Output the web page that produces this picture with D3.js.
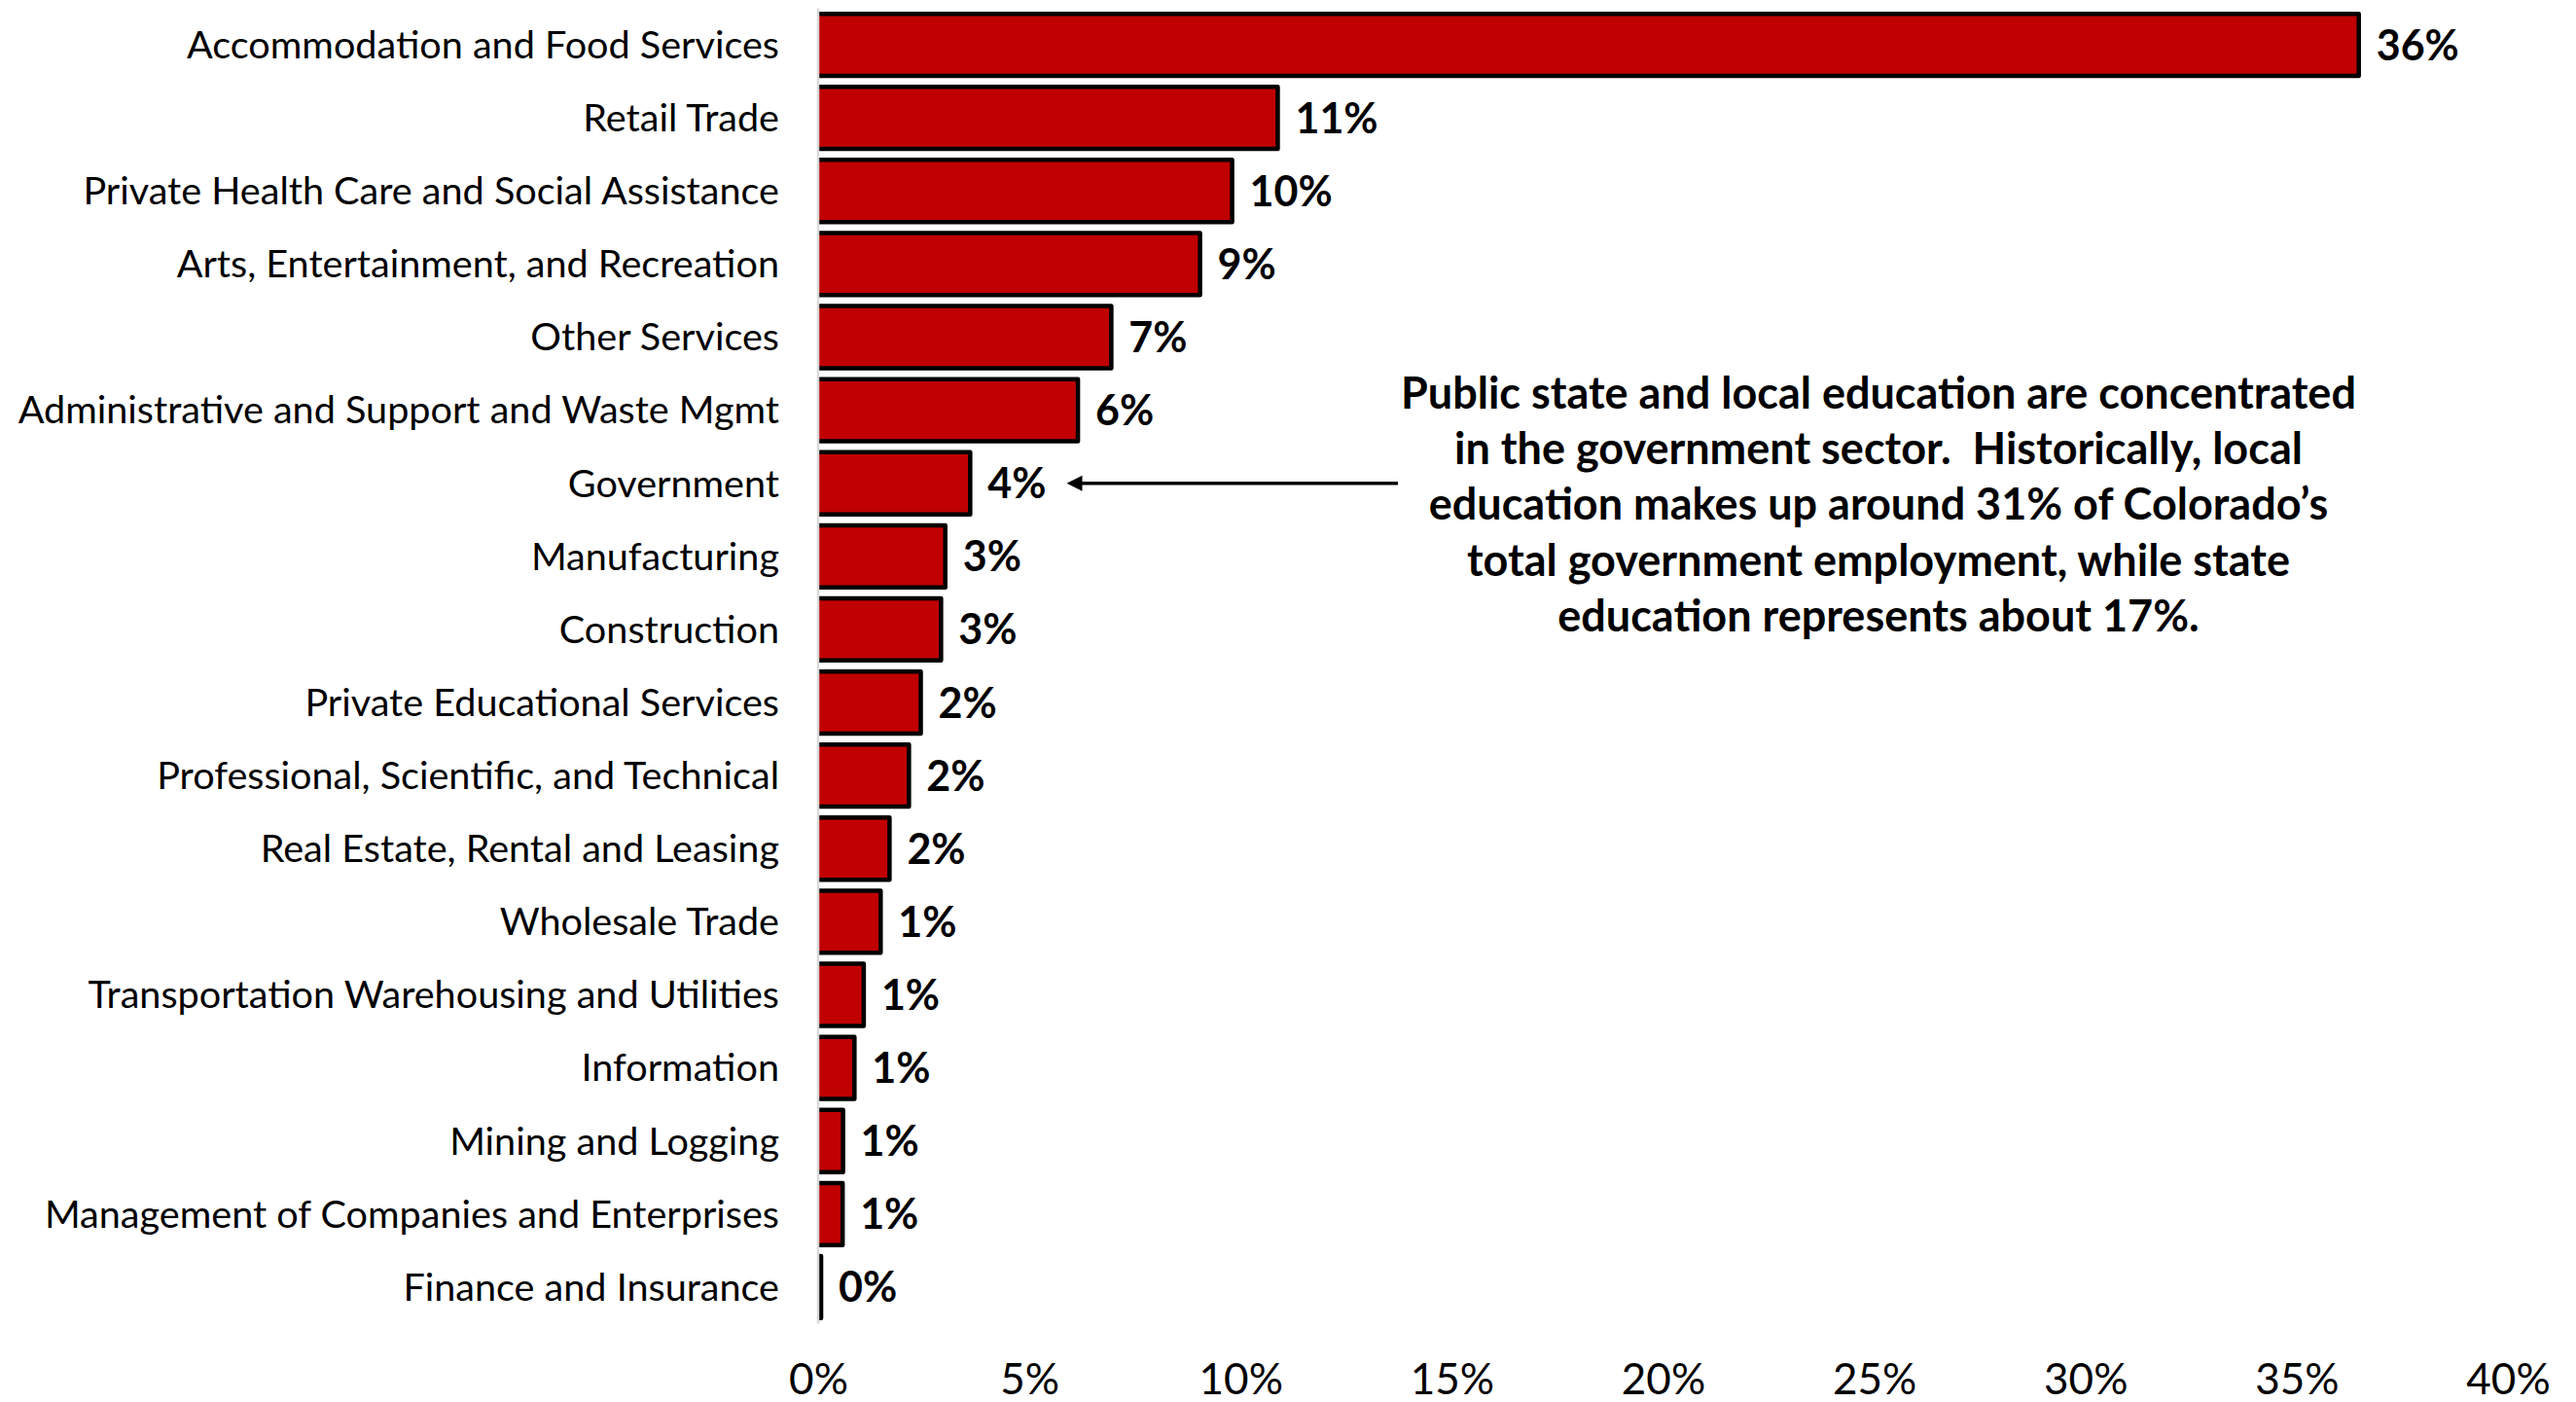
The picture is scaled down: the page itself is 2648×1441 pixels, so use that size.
<!DOCTYPE html>
<html>
<head>
<meta charset="utf-8">
<script src="https://cdn.jsdelivr.net/npm/d3@7"></script>
<style>
  html, body { margin: 0; padding: 0; background: #ffffff; }
  svg { display: block; }
  text { font-family: Lato, "Open Sans", sans-serif; fill: #000; }
</style>
</head>
<body>
<svg id="chart" width="2648" height="1441"></svg>
<script>
// Share of each industry, largest first
const industries = [
  "Accommodation and Food Services",
  "Retail Trade",
  "Private Health Care and Social Assistance",
  "Arts, Entertainment, and Recreation",
  "Other Services",
  "Administrative and Support and Waste Mgmt",
  "Government",
  "Manufacturing",
  "Construction",
  "Private Educational Services",
  "Professional, Scientific, and Technical",
  "Real Estate, Rental and Leasing",
  "Wholesale Trade",
  "Transportation Warehousing and Utilities",
  "Information",
  "Mining and Logging",
  "Management of Companies and Enterprises",
  "Finance and Insurance"
];
const shares = [
  0.3647, 0.1088, 0.0980, 0.0904, 0.0694, 0.0615, 0.0360, 0.0301, 0.0291,
  0.0243, 0.0215, 0.0169, 0.0148, 0.0108, 0.0086, 0.0059, 0.0058, 0.0007
];
const xTicks = [0, 0.05, 0.10, 0.15, 0.20, 0.25, 0.30, 0.35, 0.40];
const highlighted = "Government";
const noteLines = [
  "Public state and local education are concentrated",
  "in the government sector.  Historically, local",
  "education makes up around 31% of Colorado\u2019s",
  "total government employment, while state",
  "education represents about 17%."
];

const rows = industries.map((name, i) => ({ name, value: shares[i] }));
const svg = d3.select("#chart");

const x = d3.scaleLinear().domain([0, 0.40]).range([841, 2578]);
const y = d3.scaleBand()
  .domain(industries)
  .range([8.5, 1360.5])
  .paddingInner(0.15)
  .paddingOuter(0.075);
const bw = y.bandwidth();
const pct = d3.format(".0%");

// Bars: outlined on top, right and bottom; the left side sits on the axis line
svg.append("g").selectAll("path")
  .data(rows)
  .join("path")
  .attr("d", d => {
    const x0 = x(0), x1 = x(d.value), y0 = y(d.name), y1 = y0 + bw;
    return `M${x0},${y0}H${x1}V${y1}H${x0}`;
  })
  .attr("fill", "#C00000")
  .attr("stroke", "#000")
  .attr("stroke-width", 4.5)
  .attr("stroke-linejoin", "round");

// Vertical category axis line
svg.append("line")
  .attr("x1", x(0)).attr("x2", x(0))
  .attr("y1", y.range()[0]).attr("y2", y.range()[1])
  .attr("stroke", "#D9D9D9")
  .attr("stroke-width", 2.5);

// Category labels
svg.append("g").selectAll("text")
  .data(rows)
  .join("text")
  .attr("x", 801)
  .attr("y", d => y(d.name) + bw / 2)
  .attr("dy", "0.35em")
  .attr("text-anchor", "end")
  .style("font-size", "39.6px")
  .text(d => d.name);

// Value labels
const valueLabels = svg.append("g").selectAll("text")
  .data(rows)
  .join("text")
  .attr("x", d => x(d.value) + 18)
  .attr("y", d => y(d.name) + bw / 2)
  .attr("dy", "0.36em")
  .style("font-size", "43px")
  .style("font-weight", "700")
  .text(d => pct(d.value));

// Bottom percentage axis, labels only
const xAxis = svg.append("g")
  .attr("transform", "translate(0,1402)")
  .call(d3.axisBottom(x).tickValues(xTicks).tickFormat(pct).tickSize(0).tickPadding(0));
xAxis.select(".domain").remove();
xAxis.selectAll("text")
  .attr("y", 31)
  .attr("dy", 0)
  .style("font-family", "Lato, 'Open Sans', sans-serif")
  .style("font-size", "44px")
  .attr("fill", "#000");

// Callout note
const note = svg.append("text")
  .attr("x", 1931)
  .attr("y", 420)
  .attr("text-anchor", "middle")
  .style("font-size", "45px")
  .style("font-weight", "700")
  .style("white-space", "pre");
note.selectAll("tspan")
  .data(noteLines)
  .join("tspan")
  .attr("x", 1931)
  .attr("dy", (d, i) => i === 0 ? 0 : 57.2)
  .text(d => d);

// Arrow from the note to the government bar label
const govLabel = valueLabels.filter(d => d.name === highlighted).node().getBBox();
const ay = y(highlighted) + bw / 2;
const tipX = govLabel.x + govLabel.width + 21;
const tailX = 1437;
svg.append("line")
  .attr("x1", tipX + 12).attr("x2", tailX)
  .attr("y1", ay).attr("y2", ay)
  .attr("stroke", "#000")
  .attr("stroke-width", 3.5);
svg.append("path")
  .attr("d", `M${tipX},${ay}L${tipX + 16},${ay - 8}L${tipX + 16},${ay + 8}Z`)
  .attr("fill", "#000");
</script>
</body>
</html>
